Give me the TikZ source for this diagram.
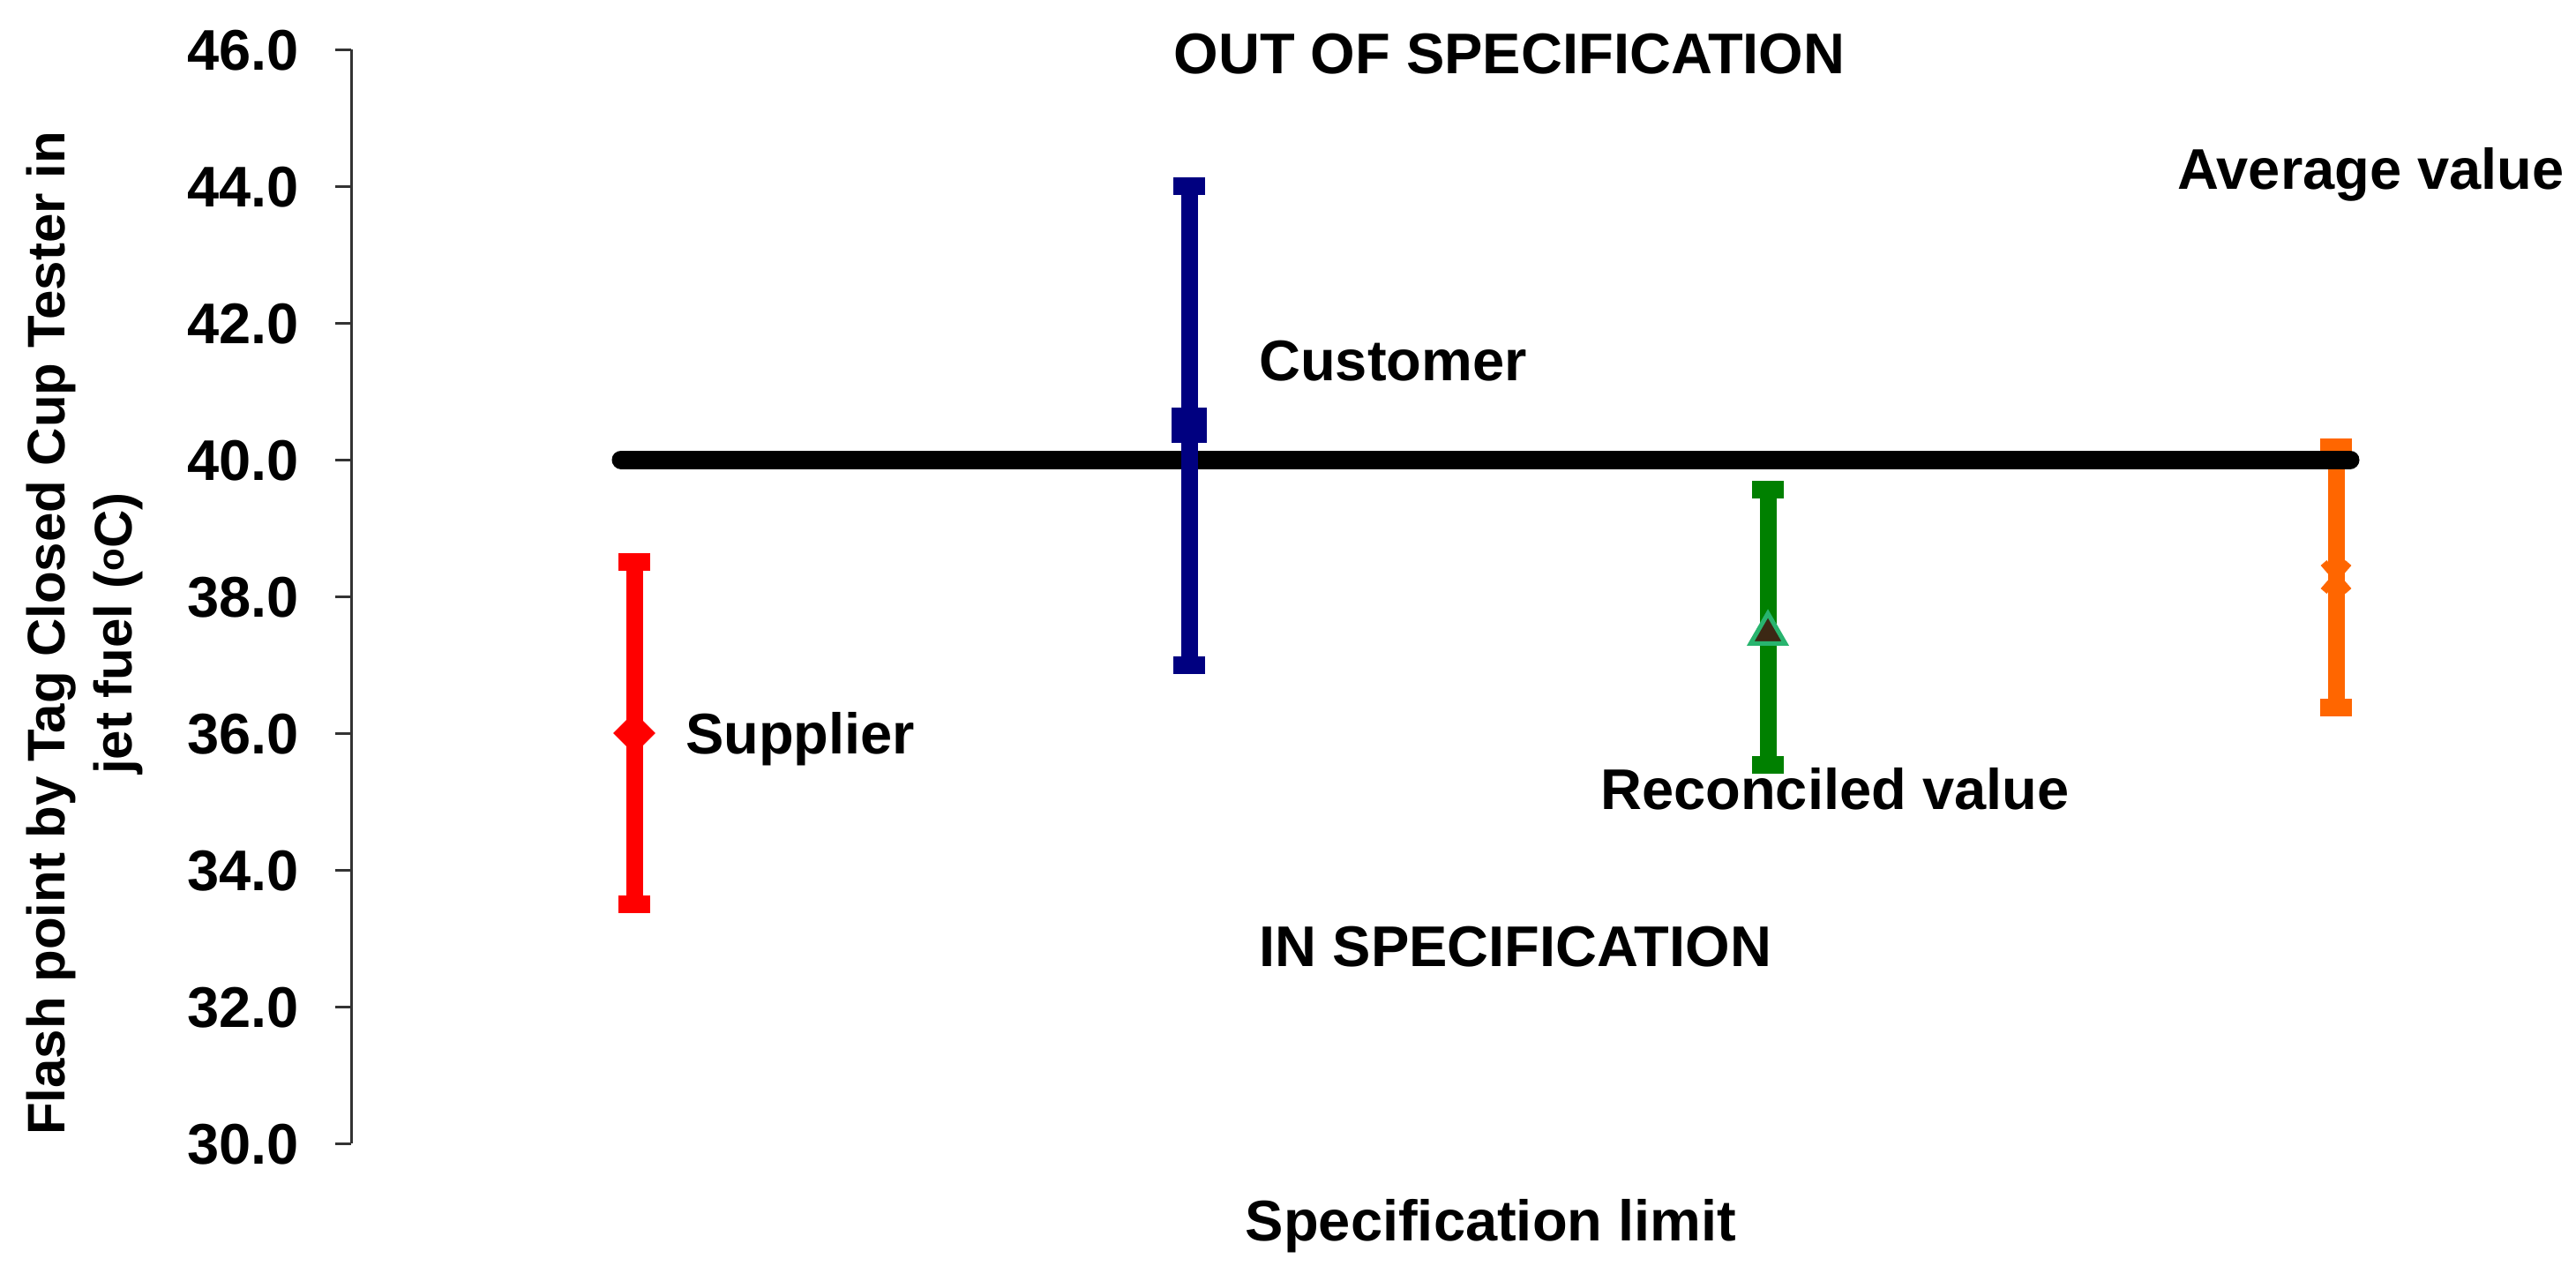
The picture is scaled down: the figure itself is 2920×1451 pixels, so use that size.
\documentclass[tikz,border=0pt]{standalone}
\usepackage{fontspec}
\setmainfont{Liberation Sans}
\usetikzlibrary{shapes.geometric}
\definecolor{cRed}{RGB}{255,0,0}
\definecolor{cNavy}{RGB}{0,0,128}
\definecolor{cGreen}{RGB}{0,128,0}
\definecolor{cOrange}{RGB}{255,102,0}
\definecolor{cTri}{RGB}{60,40,20}
\definecolor{cTriEdge}{RGB}{40,180,110}
\begin{document}
\begin{tikzpicture}[x=1pt,y=-1pt,
  txt/.style={inner sep=0pt,font=\fontsize{65}{76}\selectfont\bfseries},
  bar/.style={line width=19pt},
  barcap/.style={minimum width=36pt,minimum height=20pt,inner sep=0pt,draw=none,rectangle}]
\useasboundingbox (0,0) rectangle (2920,1451);
% axis
\draw[line width=3pt,black!80] (398,56) -- (398,1296);
\foreach \v in {30,32,...,46}{
  \pgfmathsetmacro{\yy}{521-(\v-40)*77.5}
  \draw[line width=3pt,black!80] (380,\yy) -- (398,\yy);
  \node[txt,anchor=base east] at (339,\yy+23) {\v.0};
}
% y title
\node[txt,rotate=90,align=center,font=\fontsize{60}{76}\selectfont\bfseries] (ytitle) at (96,718)
  {Flash point by Tag Closed Cup Tester in\\ jet fuel (\textsuperscript{o}C)};
% orange (behind limit line)
\draw[bar,cOrange] (2648,507) -- (2648,802);
\node[barcap,fill=cOrange] at (2648,507) {};
\node[barcap,fill=cOrange] at (2648,802) {};
\coordinate (om) at (2648,654);
\draw[cOrange,line width=9pt] ([shift={(-14,-16)}]om) -- ([shift={(14,16)}]om);
\draw[cOrange,line width=9pt] ([shift={(-14,16)}]om) -- ([shift={(14,-16)}]om);
% spec limit line
\draw[line width=21pt,line cap=round] (704,521) -- (2664,521);
% supplier
\draw[bar,cRed] (719,637) -- (719,1025);
\node[barcap,fill=cRed] at (719,637) {};
\node[barcap,fill=cRed] at (719,1025) {};
\node[diamond,fill=cRed,minimum size=48pt,inner sep=0pt] at (719,831) {};
% customer
\draw[bar,cNavy] (1348,211) -- (1348,754);
\node[barcap,fill=cNavy] at (1348,211) {};
\node[barcap,fill=cNavy] at (1348,754) {};
\node[rectangle,fill=cNavy,minimum size=40pt,inner sep=0pt] at (1348,482) {};
% reconciled
\draw[bar,cGreen] (2004,555) -- (2004,867);
\node[barcap,fill=cGreen] at (2004,555) {};
\node[barcap,fill=cGreen] at (2004,867) {};
\node[isosceles triangle,isosceles triangle apex angle=60,shape border rotate=90,fill=cTri,draw=cTriEdge,line width=5pt,minimum size=34pt,inner sep=0pt] at (2004,718) {};
% labels
\node[txt,anchor=base] (out) at (1711,83) {OUT OF SPECIFICATION};
\node[txt,anchor=base west] (cust) at (1427,431) {Customer};
\node[txt,anchor=base west] (avg) at (2468,214) {Average value};
\node[txt,anchor=base west] (sup) at (777,854) {Supplier};
\node[txt,anchor=base west] (rec) at (1814,917) {Reconciled value};
\node[txt,anchor=base] (in) at (1718,1095) {IN SPECIFICATION};
\node[txt,anchor=base] (lim) at (1690,1406) {Specification limit};
\end{tikzpicture}
\end{document}
